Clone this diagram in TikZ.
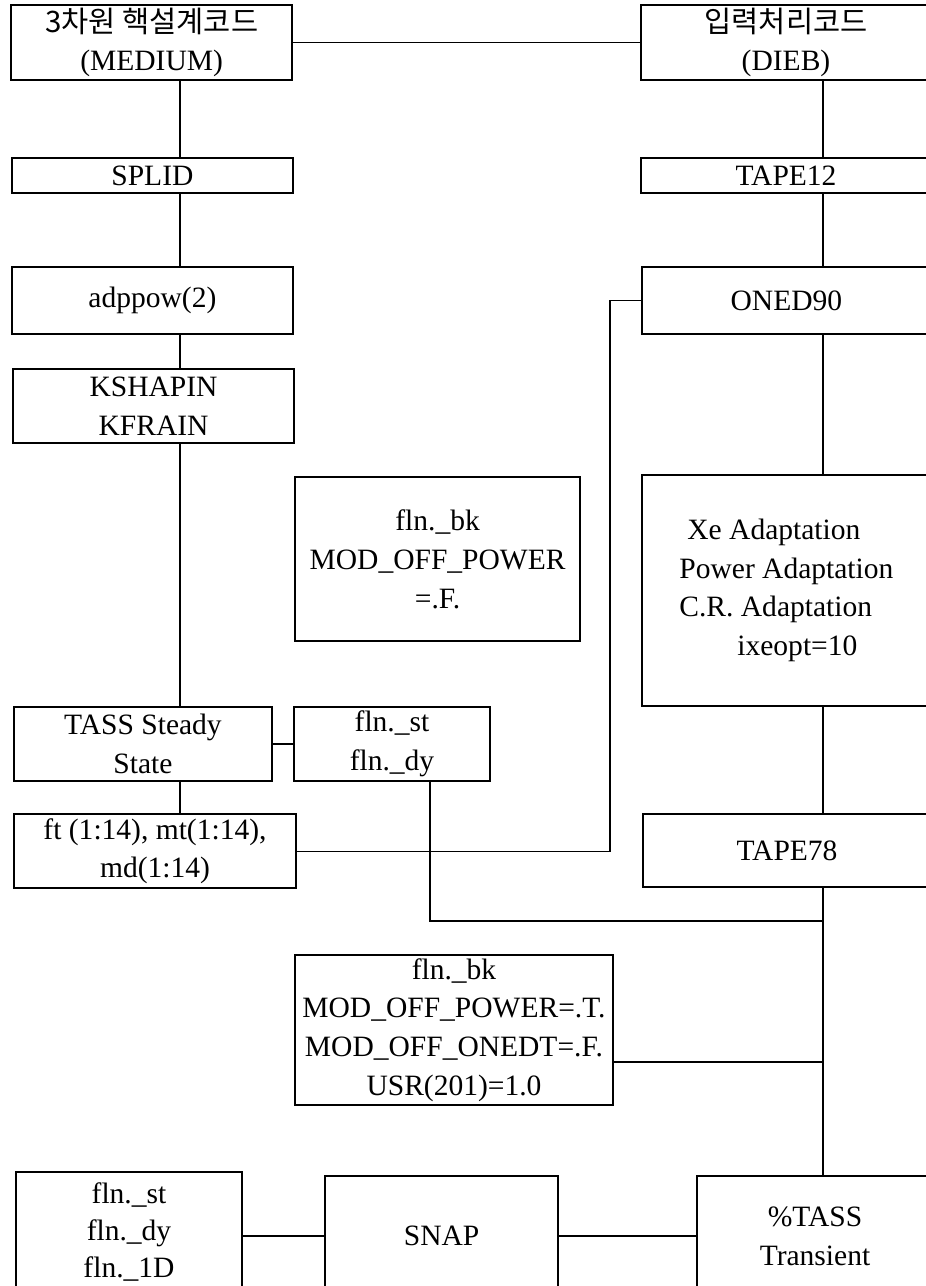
\documentclass[tikz,border=0pt]{standalone}
\usepackage{fontspec}
\setmainfont{Liberation Serif}
\newfontfamily\kr{Noto Sans CJK KR}
\tikzset{
  box/.style={draw=black,line width=1.1pt,align=center,inner sep=2pt,fill=white,font=\fontsize{21}{27.5}\selectfont},
  wire/.style={line width=.8pt,draw=black}
}

\begin{document}
\begin{tikzpicture}
\useasboundingbox (0,0) rectangle (23.15,-32.15);
\clip (0,0) rectangle (23.15,-32.15);
\fill[white] (0,0) rectangle (23.15,-32.15);
\coordinate (colL) at (4.5,0);
\coordinate (colR) at (20.575,0);
\coordinate (jog) at (15.25,0);
\coordinate (drop) at (10.75,-23.025);
% left column
\node[box,minimum width=7.03cm,minimum height=1.875cm] (med) at (3.79,-1.06) {{\kr 3차원 핵설계코드}\\(MEDIUM)};
\node[box,minimum width=7.03cm,minimum height=.875cm] (splid) at (3.81,-4.39) {SPLID};
\node[box,minimum width=7.03cm,minimum height=1.675cm] (adp) at (3.81,-7.51) {adppow(2)};
\node[box,minimum width=7.03cm,minimum height=1.85cm] (kshap) at (3.84,-10.15) {KSHAPIN\\KFRAIN};
\node[box,minimum width=6.45cm,minimum height=1.85cm] (tass) at (3.575,-18.6) {TASS Steady\\State};
\node[box,minimum width=4.9cm,minimum height=1.85cm] (flnA) at (9.8,-18.6) {fln.\_st\\fln.\_dy};
\node[box,minimum width=7.05cm,minimum height=1.85cm] (ft) at (3.875,-21.28) {ft (1:14), mt(1:14),\\md(1:14)};
% right column
\node[box,minimum width=7.25cm,minimum height=1.875cm] (dieb) at (19.65,-1.06) {{\kr 입력처리코드}\\(DIEB)};
\node[box,minimum width=7.25cm,minimum height=.875cm] (tape12) at (19.65,-4.39) {TAPE12};
\node[box,minimum width=7.225cm,minimum height=1.675cm] (oned) at (19.66,-7.51) {ONED90};
\node[box,align=left,minimum width=7.225cm,minimum height=5.775cm] (xe) at (19.66,-14.76)
 {\hspace*{.2cm}Xe Adaptation\\Power Adaptation\\C.R. Adaptation\\\hspace*{1.45cm}ixeopt=10};
\node[box,minimum width=7.2cm,minimum height=1.825cm] (tape78) at (19.675,-21.26) {TAPE78};
% middle blocks
\node[box,minimum width=7.125cm,minimum height=4.1cm] (bkA) at (10.94,-13.98) {fln.\_bk\\MOD\_OFF\_POWER\\=.F.};
\node[box,minimum width=7.95cm,minimum height=3.75cm] (bkB) at (11.35,-25.75) {fln.\_bk\\MOD\_OFF\_POWER=.T.\\MOD\_OFF\_ONEDT=.F.\\USR(201)=1.0};
% bottom row
\node[box,font=\fontsize{21}{26}\selectfont,minimum width=5.65cm,minimum height=3cm] (flnB) at (3.225,-30.8) {fln.\_st\\fln.\_dy\\fln.\_1D};
\node[box,minimum width=5.825cm,minimum height=3cm] (snap) at (11.04,-30.9) {SNAP};
\node[box,minimum width=5.9cm,minimum height=3cm] (tass2) at (20.375,-30.9) {\%TASS\\Transient};
\coordinate (bkOut) at ([yshift=-8mm]bkB.east);
% connectors
\draw[wire] (med) -- (dieb);
\draw[wire] (med.south -| colL) -- (splid.north -| colL);
\draw[wire] (splid.south -| colL) -- (adp.north -| colL);
\draw[wire] (adp.south -| colL) -- (kshap.north -| colL);
\draw[wire] (kshap.south -| colL) -- (tass.north -| colL);
\draw[wire] (tass.south -| colL) -- (ft.north -| colL);
\draw[wire] (tass) -- (flnA);
\draw[wire] (ft.east) -| (jog |- oned.west) -- (oned.west);
\draw[wire] (dieb.south -| colR) -- (tape12.north -| colR);
\draw[wire] (tape12.south -| colR) -- (oned.north -| colR);
\draw[wire] (oned.south -| colR) -- (xe.north -| colR);
\draw[wire] (xe.south -| colR) -- (tape78.north -| colR);
\draw[wire] (tape78.south -| colR) -- (tass2.north -| colR);
\draw[wire] (flnA.south -| drop) |- (drop -| colR);
\draw[wire] (bkOut) -- (bkOut -| colR);
\draw[wire] (flnB.east |- snap.west) -- (snap.west);
\draw[wire] (snap) -- (tass2);
\end{tikzpicture}
\end{document}
